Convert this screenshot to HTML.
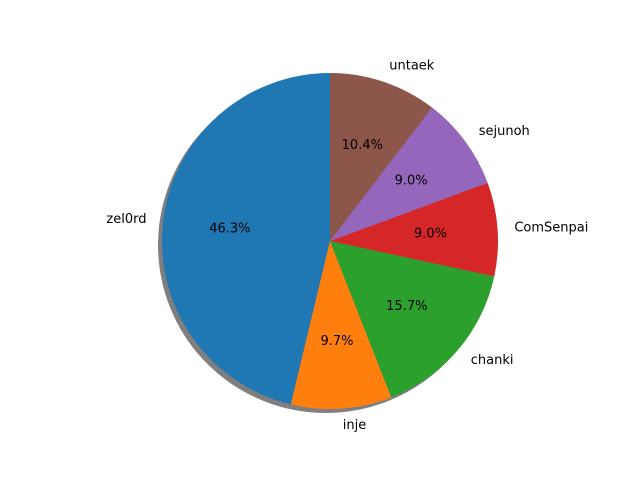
<!DOCTYPE html>
<html><head><meta charset="utf-8"><style>
body{margin:0;background:#fff;}
svg{display:block;font-family:"DejaVu Sans","Liberation Sans",sans-serif;font-size:13px;}
</style></head><body>
<svg id="chart" width="640" height="480" viewBox="0 0 640 480" xmlns="http://www.w3.org/2000/svg">
<rect width="640" height="480" fill="#fff"/>
</svg>
<script>
const labels = ["zel0rd","inje","chanki","ComSenpai","sejunoh","untaek"];
const values = [46.3, 9.7, 15.7, 9.0, 9.0, 10.4];
const colors = ["#1f77b4","#ff7f0e","#2ca02c","#d62728","#9467bd","#8c564b"];
const svg = document.getElementById('chart');
const NS = "http://www.w3.org/2000/svg";
const cx = 330, cy = 241, r = 168;
const total = values.reduce((a,b)=>a+b,0);
function pt(angDeg, rad){const a=angDeg*Math.PI/180;return [cx+rad*Math.cos(a), cy-rad*Math.sin(a)];}
function wedgePath(a0,a1,dx,dy){
  const p0=pt(a0,r), p1=pt(a1,r);
  const large=(a1-a0)>180?1:0;
  return `M${cx+dx},${cy+dy} L${p0[0]+dx},${p0[1]+dy} A${r},${r} 0 ${large} 0 ${p1[0]+dx},${p1[1]+dy} Z`;
}
let ang = 90;
values.forEach((v,i)=>{
  const a1 = ang + v/total*360;
  const s = document.createElementNS(NS,'path');
  s.setAttribute('d', wedgePath(ang,a1,-4,4));
  s.setAttribute('fill', '#000');
  s.setAttribute('fill-opacity', '0.5');
  
  
  svg.appendChild(s);
  ang = a1;
});
ang = 90;
values.forEach((v,i)=>{
  const a1 = ang + v/total*360;
  const mid = (ang + a1)/2;
  const p = document.createElementNS(NS,'path');
  p.setAttribute('d', wedgePath(ang,a1,0,0));
  p.setAttribute('fill', colors[i]);
  
  
  svg.appendChild(p);
  const lp = pt(mid, r*1.1);
  const t = document.createElementNS(NS,'text');
  t.setAttribute('x', lp[0]); t.setAttribute('y', lp[1]);
  t.setAttribute('text-anchor', lp[0] >= cx ? 'start' : 'end');
  t.setAttribute('dominant-baseline', 'central');
  t.textContent = labels[i];
  
  
  svg.appendChild(t);
  const pp = pt(mid, r*0.6);
  const pt2 = document.createElementNS(NS,'text');
  pt2.setAttribute('x', pp[0]); pt2.setAttribute('y', pp[1]);
  pt2.setAttribute('text-anchor', 'middle');
  pt2.setAttribute('dominant-baseline', 'central');
  pt2.textContent = (v/total*100).toFixed(1) + '%';
  
  
  svg.appendChild(pt2);
  ang = a1;
});
</script>
</body></html>
